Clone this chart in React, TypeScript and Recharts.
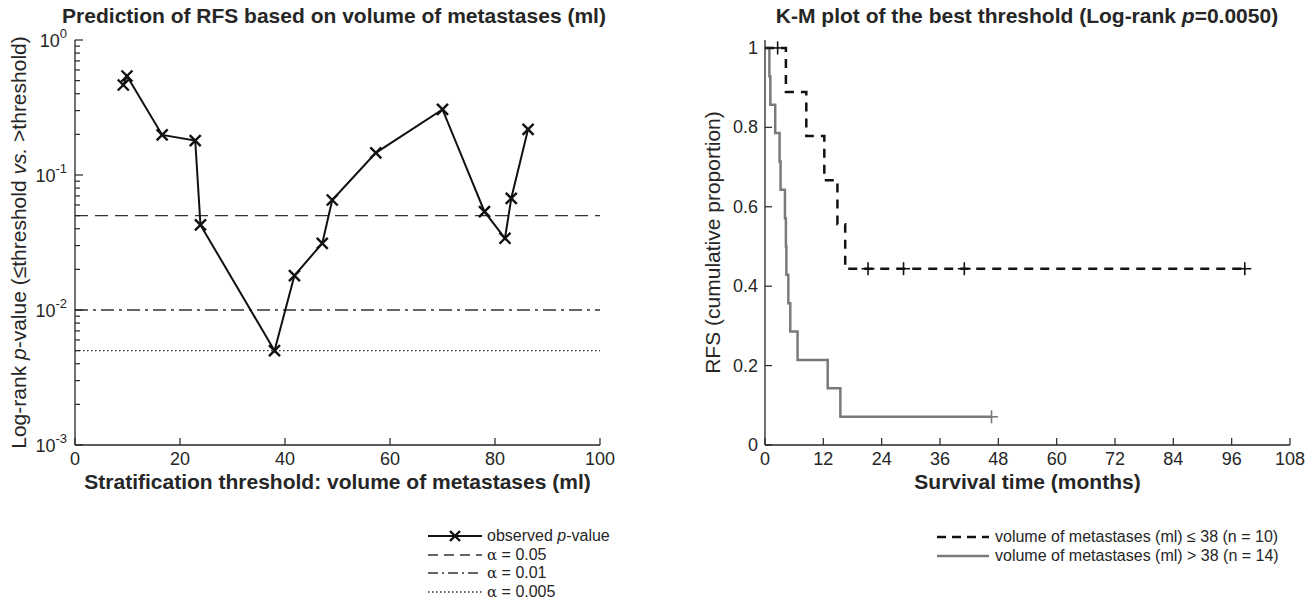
import React from "react";
import {
  ComposedChart, Line, Scatter, XAxis, YAxis, ReferenceLine, Legend,
} from "recharts";

// Left panel: log-rank p-value per stratification threshold
const thresholds = [9.2, 9.9, 16.6, 22.9, 23.9, 38.0, 41.8, 47.1, 49.0, 57.3, 70.0, 78.0, 81.9, 83.1, 86.3];
const pValues = [0.464, 0.541, 0.198, 0.18, 0.0427, 0.005, 0.018, 0.0312, 0.0653, 0.146, 0.306, 0.0535, 0.034, 0.0672, 0.218];
const alphaLevels = [0.05, 0.01, 0.005];
const leftXTicks = [0, 20, 40, 60, 80, 100];
const logDecades = [0.001, 0.01, 0.1];
const logMultipliers = [1, 2, 3, 4, 5, 6, 7, 8, 9];

// Right panel: Kaplan-Meier curves
const lowTimes = [0, 2.6, 4.3, 8.5, 12.2, 14.9, 16.5, 98.7];
const lowSurv = [1, 1, 0.889, 0.778, 0.667, 0.556, 0.444, 0.444];
const lowCensorTimes = [2.6, 21.2, 28.5, 41.0, 98.7];
const lowCensorSurv = [1, 0.444, 0.444, 0.444, 0.444];
const highTimes = [0, 0.9, 1.1, 2.1, 3.0, 3.2, 4.1, 4.3, 4.4, 4.8, 5.2, 6.7, 12.9, 15.5, 46.6];
const highSurv = [1, 0.929, 0.857, 0.786, 0.714, 0.643, 0.571, 0.5, 0.429, 0.357, 0.286, 0.214, 0.143, 0.071, 0.071];
const highCensorTimes = [46.6];
const highCensorSurv = [0.071];
const rightXTicks = [0, 12, 24, 36, 48, 60, 72, 84, 96, 108];
const rightYTicks = [0, 0.2, 0.4, 0.6, 0.8, 1];

const FONT = "'Liberation Sans', Arial, Helvetica, sans-serif";
const INK = "#262626";
const GRAY = "#7a7a7a";
const TICK_FS = 18;

const pData = thresholds.map((x, i) => ({ x, p: pValues[i] }));
const logTicks = [...logDecades.flatMap((d) => logMultipliers.map((m) => +(d * m).toPrecision(3))), 1];
const lowData = lowTimes.map((t, i) => ({ t, s: lowSurv[i] }));
const lowCensor = lowCensorTimes.map((t, i) => ({ t, s: lowCensorSurv[i] }));
const highData = highTimes.map((t, i) => ({ t, s: highSurv[i] }));
const highCensor = highCensorTimes.map((t, i) => ({ t, s: highCensorSurv[i] }));

function LogTick({ x, y, payload }: any) {
  const v = payload.value;
  const exp = Math.round(Math.log10(v));
  const major = Math.abs(v - Math.pow(10, exp)) < 1e-9;
  return (
    <g>
      <line x1={x} y1={y} x2={x + (major ? 8 : 5)} y2={y} stroke={INK} strokeWidth={1.2} />
      {major && (
        <text x={x - 8} y={y + 7} textAnchor="end" fontSize={TICK_FS} fill={INK} fontFamily={FONT}>
          10<tspan dy={-9} fontSize={13}>{exp}</tspan>
        </text>
      )}
    </g>
  );
}

function LinTickY({ x, y, payload }: any) {
  return (
    <g>
      <line x1={x} y1={y} x2={x + 7} y2={y} stroke={INK} strokeWidth={1.2} />
      <text x={x - 7} y={y + 6} textAnchor="end" fontSize={TICK_FS} fill={INK} fontFamily={FONT}>
        {payload.value}
      </text>
    </g>
  );
}

function TickX({ x, y, payload }: any) {
  return (
    <g>
      <line x1={x} y1={y} x2={x} y2={y - 7} stroke={INK} strokeWidth={1.2} />
      <text x={x} y={y + 20} textAnchor="middle" fontSize={TICK_FS} fill={INK} fontFamily={FONT}>
        {payload.value}
      </text>
    </g>
  );
}

function XMark({ cx, cy, index }: any) {
  const r = 5.5;
  return (
    <g key={`xm-${index}`}>
      <line x1={cx - r} y1={cy - r} x2={cx + r} y2={cy + r} stroke="#111" strokeWidth={2.4} />
      <line x1={cx - r} y1={cy + r} x2={cx + r} y2={cy - r} stroke="#111" strokeWidth={2.4} />
    </g>
  );
}

function plusShape(color: string) {
  return (props: any) => {
    const { cx, cy } = props;
    const r = 6.5;
    return (
      <g>
        <line x1={cx - r} y1={cy} x2={cx + r} y2={cy} stroke={color} strokeWidth={1.6} />
        <line x1={cx} y1={cy - r} x2={cx} y2={cy + r} stroke={color} strokeWidth={1.6} />
      </g>
    );
  };
}

function axisTitle(cx: number, text: React.ReactNode) {
  return (props: any) => {
    const vb = props.viewBox;
    const cy = vb.y + vb.height / 2;
    return (
      <text x={cx} y={cy} transform={`rotate(-90 ${cx} ${cy})`} textAnchor="middle"
        dominantBaseline="central" fontSize={21} fill={INK} fontFamily={FONT}>
        {text}
      </text>
    );
  };
}

function xTitle(text: string) {
  return (props: any) => {
    const vb = props.viewBox;
    return (
      <text x={vb.x + vb.width / 2} y={vb.y + 44} textAnchor="middle" fontSize={21}
        fontWeight="bold" fill={INK} fontFamily={FONT}>
        {text}
      </text>
    );
  };
}

const legendText: React.CSSProperties = { fontSize: 16, color: INK, fontFamily: FONT, whiteSpace: "nowrap", lineHeight: "18.5px" };
const alpha = <span style={{ fontFamily: "'DejaVu Serif', serif", fontSize: 15 }}>α</span>;

function LeftLegend() {
  const rows: { dash?: string; label: React.ReactNode; mark?: boolean }[] = [
    { label: <span>observed <i>p</i>-value</span>, mark: true },
    { dash: "10 6", label: <span>{alpha} = 0.05</span> },
    { dash: "10 4 2 4", label: <span>{alpha} = 0.01</span> },
    { dash: "1.5 2.5", label: <span>{alpha} = 0.005</span> },
  ];
  return (
    <div>
      {rows.map((r, i) => (
        <div key={i} style={{ display: "flex", alignItems: "center", height: 18.5 }}>
          <svg width={58} height={18}>
            <line x1={2} y1={9} x2={56} y2={9} stroke={r.mark ? "#111" : "#333"}
              strokeWidth={r.mark ? 2 : 1.3} strokeDasharray={r.dash} />
            {r.mark && (
              <g>
                <line x1={24} y1={4} x2={34} y2={14} stroke="#111" strokeWidth={2.4} />
                <line x1={24} y1={14} x2={34} y2={4} stroke="#111" strokeWidth={2.4} />
              </g>
            )}
          </svg>
          <span style={{ ...legendText, marginLeft: 3 }}>{r.label}</span>
        </div>
      ))}
    </div>
  );
}

function RightLegend() {
  const rows = [
    { color: "#111", dash: "9 6", label: "volume of metastases (ml) ≤ 38 (n = 10)" },
    { color: GRAY, dash: undefined, label: "volume of metastases (ml) > 38 (n = 14)" },
  ];
  return (
    <div>
      {rows.map((r, i) => (
        <div key={i} style={{ display: "flex", alignItems: "center", height: 18.5 }}>
          <svg width={56} height={18}>
            <line x1={2} y1={9} x2={54} y2={9} stroke={r.color} strokeWidth={2.5} strokeDasharray={r.dash} />
          </svg>
          <span style={{ ...legendText, marginLeft: 4 }}>{r.label}</span>
        </div>
      ))}
    </div>
  );
}

const titleStyle: React.CSSProperties = {
  position: "absolute", top: 4, fontSize: 21, fontWeight: "bold", color: INK,
  fontFamily: FONT, whiteSpace: "nowrap", transform: "translateX(-50%)",
};

export default function App() {
  return (
    <div style={{ position: "absolute", left: 0, top: 0, width: 1312, height: 603, background: "#fff", fontFamily: FONT }}>
      <div style={{ ...titleStyle, left: 334 }}>Prediction of RFS based on volume of metastases (ml)</div>
      <div style={{ ...titleStyle, left: 1027 }}>
        K-M plot of the best threshold (Log-rank <i>p</i>=0.0050)
      </div>

      <div style={{ position: "absolute", left: 0, top: 0 }}>
        <ComposedChart width={640} height={603} data={pData}
          margin={{ top: 40, right: 40, bottom: 108, left: 0 }}>
          <XAxis dataKey="x" type="number" domain={[0, 100]} ticks={leftXTicks} interval={0}
            tickSize={0} tickMargin={0} tickLine={false} tick={<TickX />} height={50}
            axisLine={{ stroke: INK, strokeWidth: 1.3 }}
            label={xTitle("Stratification threshold: volume of metastases (ml)")} />
          <YAxis dataKey="p" type="number" scale="log" domain={[0.001, 1]} allowDataOverflow
            ticks={logTicks} interval={0} tickSize={0} tickMargin={0} tickLine={false}
            tick={<LogTick />} width={75} axisLine={{ stroke: INK, strokeWidth: 1.3 }}
            label={axisTitle(18, <>Log-rank <tspan fontStyle="italic">p</tspan>-value (≤threshold <tspan fontStyle="italic">vs.</tspan> &gt;threshold)</>)} />
          <ReferenceLine y={alphaLevels[0]} stroke="#333" strokeWidth={1.3} strokeDasharray="13 7" />
          <ReferenceLine y={alphaLevels[1]} stroke="#333" strokeWidth={1.3} strokeDasharray="13 5 3 5" />
          <ReferenceLine y={alphaLevels[2]} stroke="#333" strokeWidth={1.3} strokeDasharray="1.5 2.5" />
          <Line dataKey="p" type="linear" stroke="#111" strokeWidth={2} isAnimationActive={false}
            dot={(props: any) => <XMark key={`d${props.index}`} {...props} />} activeDot={false} />
          <Legend layout="vertical" align="center" verticalAlign="middle" content={() => <LeftLegend />}
            wrapperStyle={{ position: "absolute", left: 426, top: 527, width: 210 }} />
        </ComposedChart>
      </div>

      <div style={{ position: "absolute", left: 690, top: 0 }}>
        <ComposedChart width={622} height={603}
          margin={{ top: 40, right: 22, bottom: 108, left: 0 }}>
          <XAxis dataKey="t" type="number" domain={[0, 108]} ticks={rightXTicks} interval={0}
            tickSize={0} tickMargin={0} tickLine={false} tick={<TickX />} height={50}
            axisLine={{ stroke: INK, strokeWidth: 1.3 }}
            label={xTitle("Survival time (months)")} />
          <YAxis dataKey="s" type="number" domain={[0, 1.02]} ticks={rightYTicks} interval={0}
            tickSize={0} tickMargin={0} tickLine={false} tick={<LinTickY />} width={75}
            axisLine={{ stroke: INK, strokeWidth: 1.3 }}
            label={axisTitle(22, "RFS (cumulative proportion)")} />
          <Line data={highData} dataKey="s" type="stepAfter" stroke={GRAY} strokeWidth={2.5}
            dot={false} activeDot={false} isAnimationActive={false} />
          <Line data={lowData} dataKey="s" type="stepAfter" stroke="#111" strokeWidth={2.5}
            strokeDasharray="9 7" dot={false} activeDot={false} isAnimationActive={false} />
          <Scatter data={highCensor} dataKey="s" shape={plusShape(GRAY)} isAnimationActive={false} />
          <Scatter data={lowCensor} dataKey="s" shape={plusShape("#111")} isAnimationActive={false} />
          <Legend layout="vertical" align="center" verticalAlign="middle" content={() => <RightLegend />}
            wrapperStyle={{ position: "absolute", left: 245, top: 528, width: 360 }} />
        </ComposedChart>
      </div>
    </div>
  );
}
